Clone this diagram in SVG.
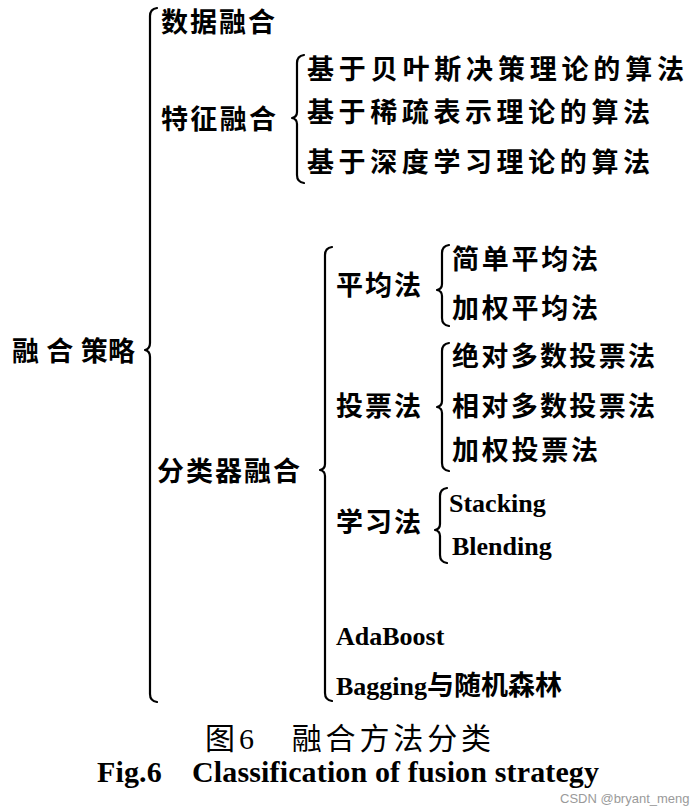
<svg xmlns="http://www.w3.org/2000/svg" width="694" height="807" viewBox="0 0 694 807">
<style>
.t{font-family:"Liberation Serif","Noto Sans CJK SC",serif;font-weight:bold;font-size:27px;fill:#000}
.e{font-family:"Liberation Serif","Noto Sans CJK SC",serif;font-weight:bold;font-size:26px;fill:#000}
.b{fill:none;stroke:#000;stroke-width:2.2;stroke-linecap:round;stroke-linejoin:round}
.cap{font-family:"Liberation Serif","Noto Sans CJK SC",serif;font-size:30px;fill:#000}
.wm{font-family:"Liberation Sans","DejaVu Sans",sans-serif;font-size:13px;fill:#9a9a9a}
</style>
<rect width="694" height="807" fill="#fff"/>
<g id="connectors">
<path class="b" d="M157,8 Q150,9 150,16 L150,343 Q150,349 145,350 Q150,351 150,357 L150,694 Q150,701 157,702"/>
<path class="b" d="M304,55 Q297,56 297,63 L297,112 Q297,117 292,118 Q297,119 297,124 L297,175 Q297,182 304,183"/>
<path class="b" d="M332,247 Q325,248 325,255 L325,464 Q325,469 320,470 Q325,471 325,476 L325,693 Q325,700 332,701"/>
<path class="b" d="M449,245 Q442,246 442,253 L442,284 Q442,289 437,290 Q442,291 442,296 L442,318 Q442,325 449,326"/>
<path class="b" d="M449,343 Q442,344 442,351 L442,401 Q442,406 437,407 Q442,408 442,413 L442,463 Q442,470 449,471"/>
<path class="b" d="M447,488 Q440,489 440,496 L440,524 Q440,529 435,530 Q440,531 440,536 L440,555 Q440,562 447,563"/>
</g>
<g id="root"><text class="t" x="12" y="361" textLength="123" lengthAdjust="spacing">融 合 策略</text></g>
<g id="data"><text class="t" x="161" y="32" textLength="114" lengthAdjust="spacing">数据融合</text></g>
<g id="feature"><text class="t" x="161" y="129" textLength="115" lengthAdjust="spacing">特征融合</text></g>
<g id="f1"><text class="t" x="307" y="79" textLength="377" lengthAdjust="spacing">基于贝叶斯决策理论的算法</text></g>
<g id="f2"><text class="t" x="307" y="122" textLength="343" lengthAdjust="spacing">基于稀疏表示理论的算法</text></g>
<g id="f3"><text class="t" x="307" y="172" textLength="343" lengthAdjust="spacing">基于深度学习理论的算法</text></g>
<g id="classifier"><text class="t" x="157" y="481" textLength="143" lengthAdjust="spacing">分类器融合</text></g>
<g id="avg"><text class="t" x="336" y="295" textLength="85" lengthAdjust="spacing">平均法</text></g>
<g id="avg1"><text class="t" x="452" y="269" textLength="146" lengthAdjust="spacing">简单平均法</text></g>
<g id="avg2"><text class="t" x="452" y="318" textLength="146" lengthAdjust="spacing">加权平均法</text></g>
<g id="vote"><text class="t" x="336" y="416" textLength="85" lengthAdjust="spacing">投票法</text></g>
<g id="vote1"><text class="t" x="452" y="366" textLength="203" lengthAdjust="spacing">绝对多数投票法</text></g>
<g id="vote2"><text class="t" x="452" y="416" textLength="203" lengthAdjust="spacing">相对多数投票法</text></g>
<g id="vote3"><text class="t" x="452" y="460" textLength="146" lengthAdjust="spacing">加权投票法</text></g>
<g id="learn"><text class="t" x="336" y="532" textLength="85" lengthAdjust="spacing">学习法</text></g>
<g id="stacking"><text class="e" x="449" y="512">Stacking</text></g>
<g id="blending"><text class="e" x="452" y="555">Blending</text></g>
<g id="adaboost"><text class="e" x="336" y="645">AdaBoost</text></g>
<g id="bagging"><text class="e" x="336" y="695">Bagging<tspan class="t">与随机森林</tspan></text></g>
<text class="cap" x="205" y="749" textLength="286" lengthAdjust="spacing">图6　融合方法分类</text>
<text class="cap" x="97" y="782" font-weight="bold" font-size="28" textLength="502" lengthAdjust="spacing">Fig.6　Classification of fusion strategy</text>
<text class="wm" x="560" y="803">CSDN @bryant_meng</text>
</svg>
